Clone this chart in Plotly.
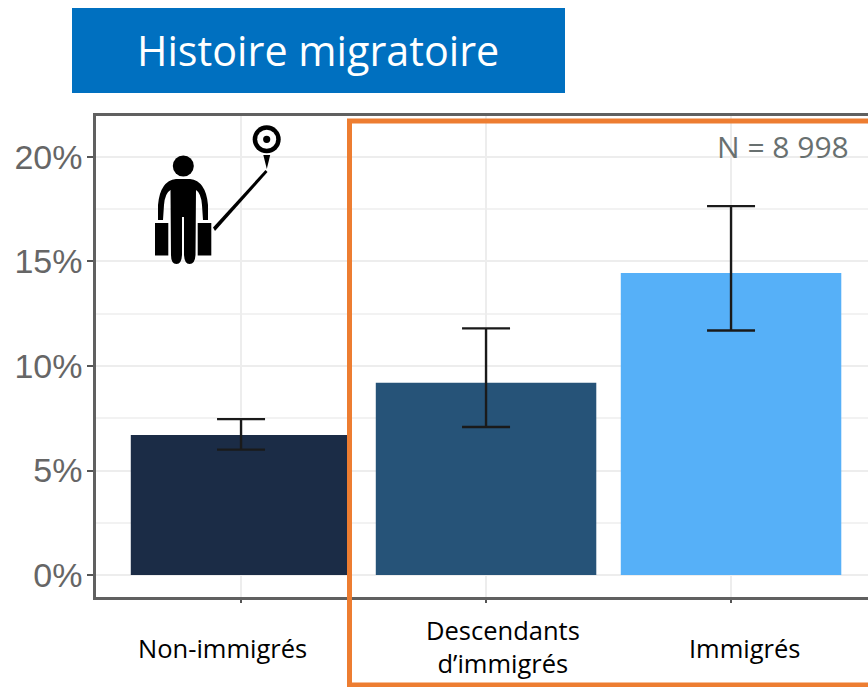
import re
import plotly.graph_objects as go

categories = ["Non-immigrés", "Descendants d’immigrés", "Immigrés"]
category_labels = ["Non-immigrés", "Descendants<br>d’immigrés", "Immigrés"]
values = [6.7, 9.2, 14.45]
err_low = [6.0, 7.08, 11.7]
err_high = [7.46, 11.8, 17.65]
bar_colors = ["#1B2C46", "#265378", "#56B0F8"]
y_ticks = [0, 5, 10, 15, 20]
y_minor = [2.5, 7.5, 12.5, 17.5]
title_text = "Histoire migratoire"
n_text = "N = 8 998"

W, H = 880, 687
L, T, B = 96, 116, 597
def px(x): return (x - L) / (W - L)
def py(y): return (B - y) / (B - T)
def path(s):
    out, isx = [], True
    for tok in re.findall(r"[A-Za-z]|-?\d+\.?\d*", s):
        if tok.isalpha():
            out.append(tok); isx = True
        else:
            v = float(tok)
            out.append(f"{px(v):.5f}" if isx else f"{py(v):.5f}")
            isx = not isx
    return " ".join(out)
def pshape(s, fill="black", line=0, color="black"):
    return dict(type="path", xref="paper", yref="paper", path=path(s), fillcolor=fill,
                line=dict(width=line, color=color), layer="above")
def circle(cx, cy, r, fill):
    return dict(type="circle", xref="paper", yref="paper", x0=px(cx-r), x1=px(cx+r),
                y0=py(cy+r), y1=py(cy-r), fillcolor=fill, line=dict(width=0), layer="above")

fig = go.Figure(go.Bar(
    x=list(range(3)), y=values, width=0.9, marker=dict(color=bar_colors, line=dict(width=0)),
    error_y=dict(type="data", symmetric=False,
                 array=[h - v for h, v in zip(err_high, values)],
                 arrayminus=[v - l for l, v in zip(err_low, values)],
                 color="#1a1a1a", thickness=2.4, width=24),
    hovertext=categories, showlegend=False))

shapes = [
    dict(type="rect", xref="paper", yref="paper", x0=px(72), x1=px(565), y0=py(93), y1=py(8),
         fillcolor="#0070C0", line=dict(width=0), layer="above"),
    dict(type="rect", xref="paper", yref="paper", x0=px(349.5), x1=px(900), y0=py(685), y1=py(121),
         fillcolor="rgba(0,0,0,0)", line=dict(width=5, color="#ED7D31"), layer="above"),
    circle(183.3, 166, 10.5, "black"),
    pshape("M158 220 L158 205 Q160 181 176 179 L190 179 Q206 181 208 205 L208 220 L203 220 "
           "L202 205 Q201 193 196 190 L195.5 255 Q195 264 189.5 264 Q184.5 264 184 255 L184 217 L182 217 "
           "L182 255 Q181.5 264 176.5 264 Q171 264 171 255 L170.5 190 Q165 193 164 205 L163 220 Z"),
    pshape("M155 223 L168.3 223 L168.3 255.5 L155 255.5 Z"),
    pshape("M197.7 223 L211.3 223 L211.3 255.5 L197.7 255.5 Z"),
    pshape("M213 227.5 L265.5 170 L267.5 172 L215 231 Z"),
    pshape("M263.3 155 L270.2 155 L266.8 169 Z"),
    circle(266.7, 139.3, 14, "black"),
    circle(266.7, 139.3, 9.5, "white"),
    circle(266.7, 139.3, 3.6, "black"),
]

label_x = [222, 503, 745]
label_y = [648, 646, 648]
annotations = [
    dict(text=t, x=px(x), y=py(yy), xref="paper", yref="paper", showarrow=False,
         font=dict(family="Open Sans", size=25.5, color="black"), align="center", xanchor="center", yanchor="middle")
    for t, x, yy in zip(category_labels, label_x, label_y)
]
annotations += [
    dict(text=title_text, x=px(318), y=py(50), xref="paper", yref="paper", showarrow=False,
         font=dict(family="Open Sans", size=41.3, color="white"), xanchor="center", yanchor="middle"),
    dict(text=n_text, x=px(783), y=py(146), xref="paper", yref="paper", showarrow=False,
         font=dict(family="Open Sans", size=30, color="#687070"), xanchor="center", yanchor="middle"),
]

fig.update_layout(
    width=W, height=H, autosize=False, margin=dict(l=L, r=0, t=T, b=H - B, pad=0, autoexpand=False),
    paper_bgcolor="white", plot_bgcolor="white", bargap=0.1,
    shapes=shapes, annotations=annotations,
    xaxis=dict(range=[-0.592, 2.608], tickmode="array", tickvals=list(range(3)), ticktext=["", "", ""],
               ticks="outside", ticklen=3, tickwidth=2, tickcolor="#555555",
               showgrid=True, gridcolor="#EDEDED", gridwidth=2, zeroline=False,
               showline=True, linecolor="#606060", linewidth=2.5, mirror=True),
    yaxis=dict(range=[-1.05, 21.96], tickmode="array", tickvals=y_ticks,
               ticktext=[f"{v}%" for v in y_ticks], ticks="outside", ticklen=6, tickwidth=2,
               ticklabelstandoff=-2,
               tickcolor="#555555", tickfont=dict(family="Liberation Sans", size=34, color="#666666"),
               showgrid=True, gridcolor="#EDEDED", gridwidth=2, zeroline=False,
               showline=True, linecolor="#606060", linewidth=2.5, mirror=True,
               minor=dict(tickvals=y_minor, showgrid=True, gridcolor="#F2F2F2", gridwidth=1.5, ticks="")),
)
fig.write_html("out.html", config=dict(displayModeBar=False),
               post_script="document.documentElement.style.overflow='hidden';document.body.style.margin='0';document.body.style.overflow='hidden';")
